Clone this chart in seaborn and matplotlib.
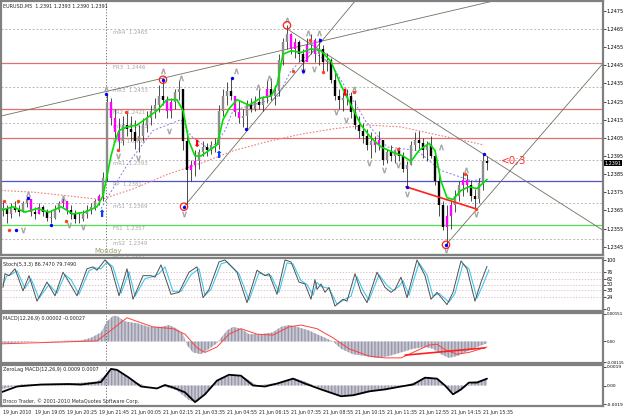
import numpy as np
import pandas as pd
import matplotlib
matplotlib.use('Agg')
import matplotlib.pyplot as plt
import seaborn as sns

# ---- candles (one every 2 bars of M5) ----
cand_hi = [1.2370, 1.2368, 1.2369, 1.2370, 1.2368, 1.2370, 1.2373, 1.2371, 1.2367, 1.2369,
           1.2368, 1.2366, 1.2365, 1.2368, 1.2370, 1.2372, 1.2370, 1.2368, 1.2365, 1.2364,
           1.2365, 1.2368, 1.2369, 1.2371, 1.2374, 1.2386, 1.2429, 1.2427, 1.2421, 1.2416,
           1.2417, 1.2420, 1.2417, 1.2415, 1.2412, 1.2416, 1.2420, 1.2423, 1.2427, 1.2434,
           1.2438, 1.2428, 1.2427, 1.2432, 1.2437, 1.2432, 1.2406, 1.2393, 1.2398, 1.2399,
           1.2403, 1.2402, 1.2403, 1.2405, 1.2423, 1.2432, 1.2436, 1.2438, 1.2428, 1.2426,
           1.2421, 1.2426, 1.2427, 1.2428, 1.2432, 1.2428, 1.2437, 1.2438, 1.2434, 1.2451,
           1.2460, 1.2467, 1.2463, 1.2460, 1.2459, 1.2454, 1.2460, 1.2462, 1.2460, 1.2460,
           1.2456, 1.2452, 1.2449, 1.2441, 1.2432, 1.2430, 1.2432, 1.2430, 1.2426, 1.2417,
           1.2413, 1.2410, 1.2408, 1.2406, 1.2409, 1.2403, 1.2399, 1.2401, 1.2399, 1.2400,
           1.2397, 1.2392, 1.2403, 1.2408, 1.2409, 1.2405, 1.2403, 1.2406, 1.2398, 1.2384,
           1.2370, 1.2368, 1.2370, 1.2376, 1.2381, 1.2386, 1.2385, 1.2382, 1.2377, 1.2383,
           1.2396, 1.2395]
cand_lo = [1.2362, 1.2358, 1.2361, 1.2364, 1.2362, 1.2364, 1.2367, 1.2362, 1.2360, 1.2363,
           1.2362, 1.2359, 1.2358, 1.2360, 1.2364, 1.2367, 1.2363, 1.2360, 1.2358, 1.2358,
           1.2359, 1.2361, 1.2363, 1.2365, 1.2368, 1.2370, 1.2381, 1.2412, 1.2404, 1.2399,
           1.2401, 1.2406, 1.2403, 1.2399, 1.2397, 1.2403, 1.2408, 1.2412, 1.2416, 1.2419,
           1.2423, 1.2416, 1.2416, 1.2421, 1.2426, 1.2398, 1.2367, 1.2381, 1.2384, 1.2388,
           1.2395, 1.2395, 1.2396, 1.2397, 1.2399, 1.2417, 1.2423, 1.2426, 1.2417, 1.2413,
           1.2411, 1.2410, 1.2419, 1.2420, 1.2421, 1.2420, 1.2424, 1.2426, 1.2423, 1.2428,
           1.2445, 1.2454, 1.2451, 1.2449, 1.2447, 1.2442, 1.2448, 1.2451, 1.2447, 1.2445,
           1.2441, 1.2442, 1.2435, 1.2426, 1.2421, 1.2420, 1.2423, 1.2416, 1.2410, 1.2405,
           1.2402, 1.2398, 1.2394, 1.2397, 1.2398, 1.2390, 1.2391, 1.2392, 1.2391, 1.2392,
           1.2386, 1.2378, 1.2390, 1.2398, 1.2399, 1.2394, 1.2392, 1.2394, 1.2379, 1.2362,
           1.2354, 1.2346, 1.2355, 1.2364, 1.2370, 1.2373, 1.2375, 1.2370, 1.2366, 1.2369,
           1.2376, 1.2387]
cand_cl = [1.2366, 1.2363, 1.2367, 1.2365, 1.2364, 1.2369, 1.2371, 1.2364, 1.2363, 1.2367,
           1.2364, 1.2361, 1.2361, 1.2365, 1.2369, 1.2370, 1.2365, 1.2363, 1.2360, 1.2360,
           1.2363, 1.2365, 1.2367, 1.2370, 1.2373, 1.2383, 1.2425, 1.2416, 1.2408, 1.2403,
           1.2412, 1.2410, 1.2408, 1.2403, 1.2406, 1.2412, 1.2416, 1.2420, 1.2423, 1.2428,
           1.2426, 1.2420, 1.2425, 1.2430, 1.2432, 1.2403, 1.2387, 1.2390, 1.2392, 1.2397,
           1.2400, 1.2398, 1.2401, 1.2401, 1.2420, 1.2428, 1.2431, 1.2428, 1.2419, 1.2416,
           1.2417, 1.2423, 1.2421, 1.2425, 1.2423, 1.2427, 1.2432, 1.2428, 1.2431, 1.2448,
           1.2458, 1.2462, 1.2454, 1.2458, 1.2451, 1.2447, 1.2456, 1.2459, 1.2451, 1.2454,
           1.2447, 1.2448, 1.2437, 1.2428, 1.2426, 1.2427, 1.2428, 1.2419, 1.2412, 1.2409,
           1.2406, 1.2401, 1.2403, 1.2401, 1.2404, 1.2393, 1.2397, 1.2395, 1.2398, 1.2395,
           1.2388, 1.2390, 1.2401, 1.2404, 1.2402, 1.2398, 1.2401, 1.2395, 1.2381, 1.2368,
           1.2356, 1.2362, 1.2368, 1.2373, 1.2379, 1.2382, 1.2379, 1.2373, 1.2371, 1.2380,
           1.2392, 1.2391]
magenta_idx = [7, 9, 15, 16, 24, 27, 28, 29, 41, 42, 47, 48, 58, 59, 66, 72, 73, 76, 78,
               93, 94, 111, 112, 115, 116]

# ---- moving averages (bar, price) ----
ma_green_bar = [0, 6, 12, 18, 24, 30, 36, 42, 48, 51, 53, 55, 57, 59, 63, 68, 73, 78, 83, 88,
                91, 94, 97, 100, 104, 108, 111, 114, 118, 124, 130, 135, 138, 141, 145, 150,
                155, 160, 165, 170, 175, 180, 185, 190, 196, 201, 205, 209, 214, 217, 220,
                223, 226, 230, 234, 238, 241, 243]
ma_green = [1.2365, 1.2367, 1.2364, 1.2366, 1.2364, 1.2367, 1.2363, 1.2364, 1.2367, 1.2373,
            1.2384, 1.2395, 1.2403, 1.2409, 1.2411, 1.2412, 1.2416, 1.2420, 1.2426, 1.2426,
            1.2420, 1.2403, 1.2395, 1.2395, 1.2398, 1.2401, 1.2415, 1.2421, 1.2426, 1.2423,
            1.2427, 1.2428, 1.2434, 1.2451, 1.2453, 1.2452, 1.2454, 1.2453, 1.2447, 1.2434,
            1.2423, 1.2412, 1.2405, 1.2400, 1.2397, 1.2395, 1.2392, 1.2398, 1.2402, 1.2398,
            1.2381, 1.2372, 1.2371, 1.2376, 1.2378, 1.2377, 1.2380, 1.2382]
ma_red_bar = [0, 16.5, 33.5, 50, 66.5, 83.5, 100, 116.5, 133.5, 150, 166.5, 183.5, 200,
              216.5, 233.5, 241.5]
ma_red = [1.2376, 1.2375, 1.2373, 1.2371, 1.2377, 1.2385, 1.2391, 1.2398, 1.2403, 1.2407,
          1.2410, 1.2412, 1.2411, 1.2407, 1.2403, 1.2401]
ma_blue_bar = [50, 63, 76, 90, 95, 105, 112, 116, 138, 145, 155, 165, 183, 193, 208, 220,
               236, 241]
ma_blue = [1.2366, 1.2390, 1.2409, 1.2415, 1.2406, 1.2398, 1.2409, 1.2420, 1.2427, 1.2442,
           1.2453, 1.2446, 1.2413, 1.2400, 1.2398, 1.2387, 1.2381, 1.2383]

# ---- pivot levels ----
pivot_names = ['mR4', 'FR3', 'mR3', 'FR2', 'mR2', 'FR1', 'mR1', 'PP', 'mS1', 'FS1', 'mS2', 'FS2']
pivot_vals = [1.2465, 1.2446, 1.2433, 1.2421, 1.2413, 1.2405, 1.2393, 1.2381, 1.2369, 1.2357,
              1.2349, 1.2341]

# ---- trend lines (bar, price pairs) ----
trend_lines = [((0, 1.2417), (248.5, 1.2481)),
               ((91.5, 1.2367), (177.5, 1.2481)),
               ((143, 1.2465), (301, 1.2354)),
               ((222.5, 1.2346), (301, 1.2446))]
div_line = ((202.5, 1.2378), (237, 1.2366))

# ---- markers (bar, price) ----
up_frac = [(13.5, 1.2374), (31, 1.2372), (52.5, 1.2432), (81, 1.2442), (90, 1.2438),
           (117.5, 1.2442), (128.5, 1.2433), (134, 1.2438), (143, 1.2470), (153.5, 1.2463),
           (159, 1.2463), (176.5, 1.2432), (220, 1.2400), (232.5, 1.2387)]
dn_frac = [(11, 1.2354), (34, 1.2357), (41, 1.2356), (58.5, 1.2395), (68.5, 1.2394),
           (91.5, 1.2363), (84, 1.2409), (151, 1.2442), (156.5, 1.2443), (167.5, 1.2419),
           (172.5, 1.2415), (184, 1.2391), (191.5, 1.2387), (198.5, 1.2390), (203, 1.2374),
           (222.5, 1.2343), (237.5, 1.2363)]
blue_dots = [(7.5, 1.2354), (13.5, 1.2372), (25, 1.2357), (52.5, 1.2429), (81, 1.2437),
             (91.5, 1.2367), (115.5, 1.2438), (122.5, 1.2410), (151, 1.2442), (159.5, 1.2459),
             (203, 1.2378), (222.5, 1.2346), (241.5, 1.2396)]
red_dots = [(1.5, 1.2370), (8.5, 1.2370), (4, 1.2354), (32.5, 1.2359), (58.5, 1.2398),
            (62.5, 1.2419), (146, 1.2442), (154.5, 1.2459), (161, 1.2441), (176.5, 1.2430),
            (198.5, 1.2399), (232, 1.2385), (237.5, 1.2366)]
red_rings = [(81, 1.2437), (91.5, 1.2367), (143, 1.2467), (222.5, 1.2346)]
up_arrows = [(50, 1.2366), (108.5, 1.2398)]
dn_arrows = [(97.5, 1.2399), (171.5, 1.2427)]

# ---- Stochastic(5,3,3) ----
stoch_bar = [1, 2, 4, 7, 11, 14, 18, 23, 27, 31, 33, 38, 43, 46, 48, 52, 55, 59, 63, 66, 71,
             75, 77, 80, 85, 89, 94, 98, 101, 104, 109, 112, 118, 123, 128, 132, 134, 138,
             142, 145, 149, 152, 155, 157, 158, 160, 162, 164, 167, 171, 173, 177, 180, 183,
             188, 192, 195, 197, 200, 203, 208, 212, 215, 218, 223, 226, 230, 233, 237, 240,
             243]
stoch_main = [44, 72, 68, 82, 37, 68, 16, 55, 27, 75, 62, 27, 82, 86, 79, 100, 86, 27, 82,
              20, 68, 68, 65, 90, 30, 34, 75, 86, 23, 40, 96, 100, 75, 13, 79, 68, 72, 30,
              100, 96, 55, 51, 20, 60, 40, 51, 34, 44, 6, 20, 16, 72, 34, 13, 75, 44, 34, 40,
              65, 23, 100, 68, 20, 34, 9, 34, 98, 82, 16, 55, 87]
sig_bar = [1, 3, 5, 8, 12, 15, 19, 24, 28, 32, 35, 39, 44, 47, 50, 53, 56, 60, 64, 67, 72,
           76, 79, 82, 86, 90, 95, 99, 102, 105, 110, 113, 119, 124, 129, 133, 135, 139, 143,
           146, 150, 153, 156, 158, 160, 162, 164, 168, 172, 175, 178, 181, 184, 189, 193,
           196, 199, 201, 204, 209, 213, 216, 219, 224, 227, 231, 234, 238, 241, 244]
stoch_sig = [50, 68, 70, 78, 42, 62, 22, 50, 32, 70, 60, 30, 78, 84, 82, 96, 86, 32, 76, 26,
             62, 66, 72, 86, 36, 36, 70, 82, 28, 40, 92, 96, 72, 18, 74, 68, 68, 34, 94, 92,
             58, 50, 28, 54, 46, 44, 42, 10, 20, 26, 66, 38, 18, 70, 48, 38, 46, 58, 28, 94,
             70, 26, 32, 14, 32, 92, 82, 22, 50, 80]
stoch_levels = [76, 62, 50, 38, 24]

# ---- MACD(12,26,9) ----
macd_bar = [0, 10, 20, 30, 40, 45, 50, 53, 56, 58, 62, 68, 74, 80, 84, 88, 91, 93, 96, 100,
            104, 108, 110, 113, 116, 120, 124, 130, 136, 140, 144, 148, 154, 160, 166, 170,
            176, 182, 188, 194, 200, 206, 212, 216, 220, 224, 228, 232, 238, 243]
macd_hist = [-0.0001, -0.00005, 0.0, 0.00003, 0.00005, 0.0002, 0.0005, 0.0011, 0.0014,
             0.0014, 0.0011, 0.0010, 0.0008, 0.0008, 0.0009, 0.0007, 0.0004, -0.0002,
             -0.0006, -0.0007, -0.0004, -0.0001, 0.0002, 0.0006, 0.0008, 0.0007, 0.0004,
             0.0004, 0.0005, 0.0008, 0.0009, 0.0008, 0.0006, 0.0003, 0.0, -0.0004, -0.0007,
             -0.0008, -0.0009, -0.0008, -0.0006, -0.0004, -0.0003, -0.0004, -0.0007, -0.0009,
             -0.0008, -0.0006, -0.0003, -0.0001]
macd_sig_bar = [0, 48, 56, 63, 68, 76, 86, 92, 98, 102, 108, 114, 120, 128, 136, 144, 150,
                158, 166, 174, 184, 192, 200, 208, 214, 218, 222, 228, 234, 243]
macd_sig = [-0.00013, 0.00003, 0.0007, 0.0013, 0.0011, 0.0008, 0.0007, 0.0004, -0.00035,
            -0.0006, -0.0003, 0.0004, 0.0007, 0.0004, 0.00035, 0.0008, 0.0009, 0.0007, 0.0002,
            -0.0004, -0.0008, -0.0009, -0.0009, -0.0005, -0.0002, -0.00015, -0.00045, -0.0007,
            -0.0006, -0.0003]
macd_div = ((202, -0.00075), (242, -0.00035))

# ---- ZeroLag MACD ----
zl_bar = [0, 8, 20, 34, 40, 50, 55, 58, 64, 70, 78, 82, 86, 92, 97, 102, 108, 114, 120, 126,
          132, 138, 146, 152, 160, 170, 176, 184, 192, 200, 206, 212, 218, 222, 226, 230,
          234, 238, 243]
zl_line = [-0.0007, -0.0001, 0.0001, 0.00015, 0.0001, 0.00035, 0.0017, 0.0016, 0.0008,
           -0.0001, -0.0003, 0.00005, -0.0002, -0.0007, -0.0017, -0.0009, 0.0005, 0.0011,
           0.0010, 0.0, -0.0001, 0.0002, 0.0007, 0.0002, -0.0004, -0.0011, -0.0010, -0.0006,
           -0.0004, -0.0001, 0.0001, 0.0008, 0.0007, 0.0, -0.0009, -0.0004, 0.0003, 0.0003,
           0.0007]
zl_hist_bar = [0, 10, 20, 34, 48, 53, 56, 60, 66, 72, 80, 88, 94, 98, 104, 110, 116, 122,
               128, 140, 146, 152, 160, 168, 178, 188, 200, 208, 214, 220, 224, 228, 232,
               236, 243]
zl_hist = [-0.0004, 0.0001, 0.00015, 0.0002, 0.0004, 0.0012, 0.0017, 0.0013, 0.0004, 0.0,
           0.0, -0.0005, -0.0015, -0.0017, -0.0005, 0.0008, 0.0011, 0.0008, 0.0, 0.0003,
           0.0008, 0.0004, -0.0003, -0.0010, -0.0010, -0.0005, -0.0001, 0.0004, 0.0009,
           0.0004, -0.0005, -0.0008, -0.0002, 0.0004, 0.0006]

time_labels = ['19 Jun 2010', '19 Jun 19:05', '19 Jun 20:25', '19 Jun 21:45', '21 Jun 00:05',
               '21 Jun 02:15', '21 Jun 03:35', '21 Jun 04:55', '21 Jun 06:15', '21 Jun 07:35',
               '21 Jun 08:55', '21 Jun 10:15', '21 Jun 11:35', '21 Jun 12:55', '21 Jun 14:15',
               '21 Jun 15:35']
price_ticks = [1.2475, 1.2465, 1.2455, 1.2445, 1.2435, 1.2425, 1.2415, 1.2405, 1.2395,
               1.2385, 1.2375, 1.2365, 1.2355, 1.2345]

sns.set_style('white')
plt.rcParams['font.family'] = ['DejaVu Sans']

W, H = 625, 416
fig = plt.figure(figsize=(W / 100, H / 100), dpi=100)
XMAX = 301
SMALL = 3.5


def panel(top, bottom):
    ax = fig.add_axes([1 / W, 1 - bottom / H, 602 / W, (bottom - top) / H])
    ax.set_xlim(0, XMAX)
    ax.set_xticks([])
    ax.yaxis.tick_right()
    ax.tick_params(axis='y', labelsize=SMALL, length=2, width=0.5, pad=0.8, colors='black')
    for s in ax.spines.values():
        s.set_color('#808080')
        s.set_linewidth(1.6)
    return ax


ax = panel(1, 255)
ax_st = panel(258, 311)
ax_m = panel(313, 363)
ax_z = panel(365, 406)

# main price panel
ax.set_ylim(1.23404, 1.24804)
ax.set_yticks(price_ticks)
ax.set_yticklabels([f'{v:.4f}' for v in price_ticks])
for name, v in zip(pivot_names, pivot_vals):
    if name.startswith('m'):
        ax.axhline(v, color='#b8b8b8', lw=0.7, ls=(0, (2, 2)), zorder=1)
    elif name.startswith('FR'):
        ax.axhline(v, color='#e07070', lw=0.9, zorder=1)
    elif name == 'PP':
        ax.axhline(v, color='#5050d0', lw=0.9, zorder=1)
    else:
        ax.axhline(v, color='#50e050', lw=0.9, zorder=1)
    ax.text(56, v - 0.0002, f'{name}  {v:.4f}', fontsize=3.9, color='#a8a8a8',
            va='center', ha='left', zorder=1)
ax.axvline(52.5, color='#606060', lw=0.6, ls=(0, (1.5, 2)), zorder=1)
ax.text(46.5, 1.23425, 'Monday', fontsize=5, color='#a0a070', va='center', zorder=2)

for (x0, y0), (x1, y1) in trend_lines:
    ax.plot([x0, x1], [y0, y1], color='#707060', lw=0.6, zorder=2)

sns.lineplot(x=ma_red_bar, y=ma_red, ax=ax, color='#f08080', lw=0.8, ls=(0, (1.5, 1.5)), zorder=2)
sns.lineplot(x=ma_blue_bar, y=ma_blue, ax=ax, color='#8080e0', lw=0.7, ls=(0, (2, 2)), zorder=2)

cand = pd.DataFrame({'hi': cand_hi, 'lo': cand_lo, 'cl': cand_cl})
cand['bar'] = np.arange(len(cand)) * 2 + 1
cand['op'] = cand['cl'].shift(1).fillna(cand['cl'])
cand['col'] = np.where(cand['cl'] < cand['op'], '#000000', '#8c8c8c')
cand.loc[magenta_idx, 'col'] = '#ff00ff'
ax.vlines(cand['bar'], cand['lo'], cand['hi'], color='#303030', lw=0.6, zorder=3)
top = np.maximum(cand['op'], cand['cl'])
bot = np.minimum(cand['op'], cand['cl'])
ax.vlines(cand['bar'], bot, np.maximum(top, bot + 0.00004), color=cand['col'], lw=1.7, zorder=3)

sns.lineplot(x=ma_green_bar, y=ma_green, ax=ax, color='#00e000', lw=1.2, zorder=4)

(x0, y0), (x1, y1) = div_line
ax.plot([x0, x1], [y0, y1], color='#ff2020', lw=1.2, zorder=5)

ax.scatter(*zip(*up_frac), marker=r'$\wedge$', s=14, color='#a0a0a0', lw=0.3, zorder=5)
ax.scatter(*zip(*dn_frac), marker=r'$\vee$', s=14, color='#a0a0a0', lw=0.3, zorder=5)
ax.scatter(*zip(*red_rings), s=28, facecolor='none', edgecolor='#ff2020', lw=0.9, zorder=5)
ax.scatter(*zip(*blue_dots), s=6, color='#0000ff', lw=0, zorder=6)
ax.scatter(*zip(*red_dots), s=6, color='#ff4020', lw=0, zorder=6)
for x, y in up_arrows:
    ax.text(x, y, '⬆', color='#0040ff', fontsize=7, ha='center', va='top', zorder=6)
for x, y in dn_arrows:
    ax.text(x, y, '⬇', color='#ff0000', fontsize=7, ha='center', va='bottom', zorder=6)

ax.text(250, 1.2392, '<0;3', color='#ff3030', fontsize=7.5, va='center')
ax.text(1, 1.24775, 'EURUSD,M5  1.2391 1.2393 1.2390 1.2391', fontsize=SMALL, va='center')
ax.text(1.002, 1.2391, '1.2391', transform=ax.get_yaxis_transform(), fontsize=SMALL,
        color='white', va='center', ha='left',
        bbox=dict(boxstyle='square,pad=0.12', fc='black', ec='none'))

for a in (ax_st, ax_m, ax_z):
    a.axvline(52.5, color='#606060', lw=0.6, ls=(0, (1.5, 2)))

# stochastic
ax_st.set_ylim(-4, 104)
ax_st.set_yticks([100] + stoch_levels + [0])
for lv in stoch_levels:
    ax_st.axhline(lv, color='#d8b8c0', lw=0.6, ls=(0, (1.5, 2)))
sns.lineplot(x=sig_bar, y=stoch_sig, ax=ax_st, color='#40c8f0', lw=0.8)
sns.lineplot(x=stoch_bar, y=stoch_main, ax=ax_st, color='#505050', lw=0.7)
ax_st.text(1, 90, 'Stoch(5,3,3) 86.7470 79.7490', fontsize=SMALL, va='center')

# MACD
ax_m.set_ylim(-0.00118, 0.00156)
ax_m.set_yticks([0.00151, 0.0, -0.00115])
ax_m.set_yticklabels(['0.00151', '0.00', '-0.00115'], fontsize=2.9)
ax_m.fill_between(macd_bar, 0, macd_hist, facecolor='#c8c8d4', edgecolor='#9898a8',
                  hatch='|||||', lw=0, zorder=1)
sns.lineplot(x=macd_sig_bar, y=macd_sig, ax=ax_m, color='#ff4040', lw=0.7, zorder=2)
(x0, y0), (x1, y1) = macd_div
ax_m.plot([x0, x1], [y0, y1], color='#ff2020', lw=1.2, zorder=3)
ax_m.text(1, 0.00125, 'MACD(12,26,9) 0.00002 -0.00027', fontsize=SMALL, va='center')

# ZeroLag MACD
ax_z.set_ylim(-0.0021, 0.0021)
ax_z.set_yticks([0.0019, 0.0, -0.0019])
ax_z.set_yticklabels(['0.0019', '0.00', '-0.0019'], fontsize=3.2)
ax_z.fill_between(zl_hist_bar, 0, zl_hist, facecolor='#c8c8d4', edgecolor='#9898a8',
                  hatch='|||||', lw=0, zorder=1)
sns.lineplot(x=zl_bar, y=zl_line, ax=ax_z, color='black', lw=1.3, zorder=2)
ax_z.text(1, 0.0016, 'ZeroLag MACD(12,26,9) 0.0009 0.0007', fontsize=SMALL, va='center')
ax_z.text(1, -0.00165, 'Broco Trader, © 2001-2010 MetaQuotes Software Corp.', fontsize=SMALL,
          va='center', color='#303030')

# time axis
tick_bars = np.arange(len(time_labels)) * 16 + 1
ax_z.set_xticks(tick_bars)
ax_z.set_xticklabels(time_labels, fontsize=3.4, ha='left')
ax_z.tick_params(axis='x', length=2, width=0.5, pad=1)

for a in (ax, ax_st, ax_m, ax_z):
    a.set_xlabel('')
    a.set_ylabel('')
    if a.get_legend():
        a.get_legend().remove()

fig.savefig('out.png', dpi=100)
